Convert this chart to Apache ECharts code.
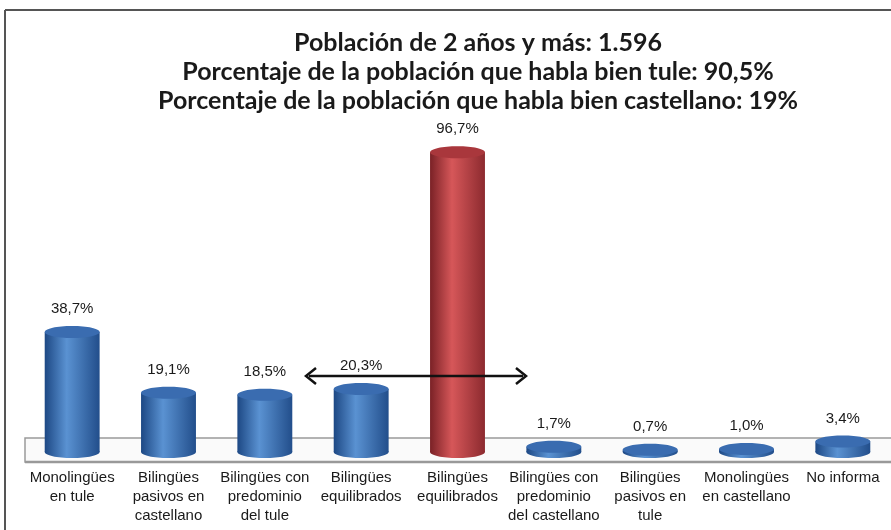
<!DOCTYPE html>
<html><head><meta charset="utf-8">
<script src="https://cdn.jsdelivr.net/npm/echarts@6/dist/echarts.min.js"></script>
<style>html,body{margin:0;padding:0;background:#fff}#c{width:891px;height:530px}</style>
</head><body><div id="c"></div>
<script>
var titleLines = [
  'Población de 2 años y más: 1.596',
  'Porcentaje de la población que habla bien tule: 90,5%',
  'Porcentaje de la población que habla bien castellano: 19%'
];
var categories = [
  'Monolingües\nen tule',
  'Bilingües\npasivos en\ncastellano',
  'Bilingües con\npredominio\ndel tule',
  'Bilingües\nequilibrados',
  'Bilingües\nequilibrados',
  'Bilingües con\npredominio\ndel castellano',
  'Bilingües\npasivos en\ntule',
  'Monolingües\nen castellano',
  'No informa'
];
var values = [38.7, 19.1, 18.5, 20.3, 96.7, 1.7, 0.7, 1.0, 3.4];
var highlightIndex = 4;

function grad(c1, c2, c3) {
  return new echarts.graphic.LinearGradient(0, 0, 1, 0, [
    {offset: 0, color: c1}, {offset: 0.4, color: c2}, {offset: 1, color: c3}
  ]);
}

var chart = echarts.init(document.getElementById('c'), null, {renderer: 'canvas'});
chart.setOption({
  animation: false,
  backgroundColor: '#fff',
  grid: {left: 24, width: 878, top: 142, bottom: 78},
  xAxis: {
    type: 'category', data: categories,
    axisLine: {show: false}, axisTick: {show: false},
    axisLabel: {interval: 0, margin: 16, fontFamily: 'Liberation Sans', fontSize: 15, lineHeight: 19, color: '#1a1a1a'}
  },
  yAxis: {type: 'value', min: 0, max: 100, show: false, splitLine: {show: false}},
  graphic: [
    {type: 'text', x: 478, y: 28, z: 10, style: {text: titleLines.join('\n'), align: 'center', verticalAlign: 'top', fontFamily: 'Lato', fontWeight: 'bold', fontSize: 25, lineHeight: 29, fill: '#1a1a1a'}},
    {type: 'line', shape: {x1: 5, y1: 10, x2: 891, y2: 10}, style: {stroke: '#555', lineWidth: 2}, z: 0},
    {type: 'line', shape: {x1: 5, y1: 10, x2: 5, y2: 530}, style: {stroke: '#555', lineWidth: 2}, z: 0},
    {type: 'rect', shape: {x: 25, y: 438, width: 880, height: 24}, style: {fill: '#fafafa', stroke: '#9a9a9a', lineWidth: 1.5}, z: 0},
    {type: 'line', shape: {x1: 25, y1: 462, x2: 891, y2: 462}, style: {stroke: '#999', lineWidth: 2.5}, z: 0},
    {type: 'line', shape: {x1: 309, y1: 376, x2: 523, y2: 376}, style: {stroke: '#111', lineWidth: 2.5}, z: 10},
    {type: 'polyline', shape: {points: [[316, 368], [306, 376], [316, 384]]}, style: {stroke: '#111', lineWidth: 2.5, fill: null}, z: 10},
    {type: 'polyline', shape: {points: [[516, 368], [526, 376], [516, 384]]}, style: {stroke: '#111', lineWidth: 2.5, fill: null}, z: 10}
  ],
  series: [{
    type: 'custom',
    data: values.map(function (v, i) { return [i, v]; }),
    encode: {x: 0, y: 1},
    z: 5,
    renderItem: function (params, api) {
      var i = api.value(0), v = api.value(1);
      var top = api.coord([i, v]);
      var base = api.coord([i, 0]);
      var bw = api.size([1, 0])[0];
      var rx = bw * 0.285, ry = 6;
      var cx = top[0];
      var red = i === highlightIndex;
      var body = red ? grad('#7a2126', '#d65759', '#8c2a2f') : grad('#1d4884', '#5a92d2', '#224e8b');
      var cap = red ? '#a9373c' : '#3a6cb0';
      var label = v.toFixed(1).replace('.', ',') + '%';
      return {
        type: 'group',
        children: [
          {type: 'rect', shape: {x: cx - rx, y: top[1], width: rx * 2, height: base[1] - top[1]}, style: {fill: body}},
          {type: 'ellipse', shape: {cx: cx, cy: base[1], rx: rx, ry: ry}, style: {fill: body}},
          {type: 'ellipse', shape: {cx: cx, cy: top[1], rx: rx, ry: ry}, style: {fill: cap}},
          {type: 'text', style: {text: label, x: cx, y: top[1] - 23, align: 'center', verticalAlign: 'middle', fontFamily: 'Liberation Sans', fontSize: 15, fill: '#1a1a1a'}}
        ]
      };
    }
  }]
});
</script></body></html>
